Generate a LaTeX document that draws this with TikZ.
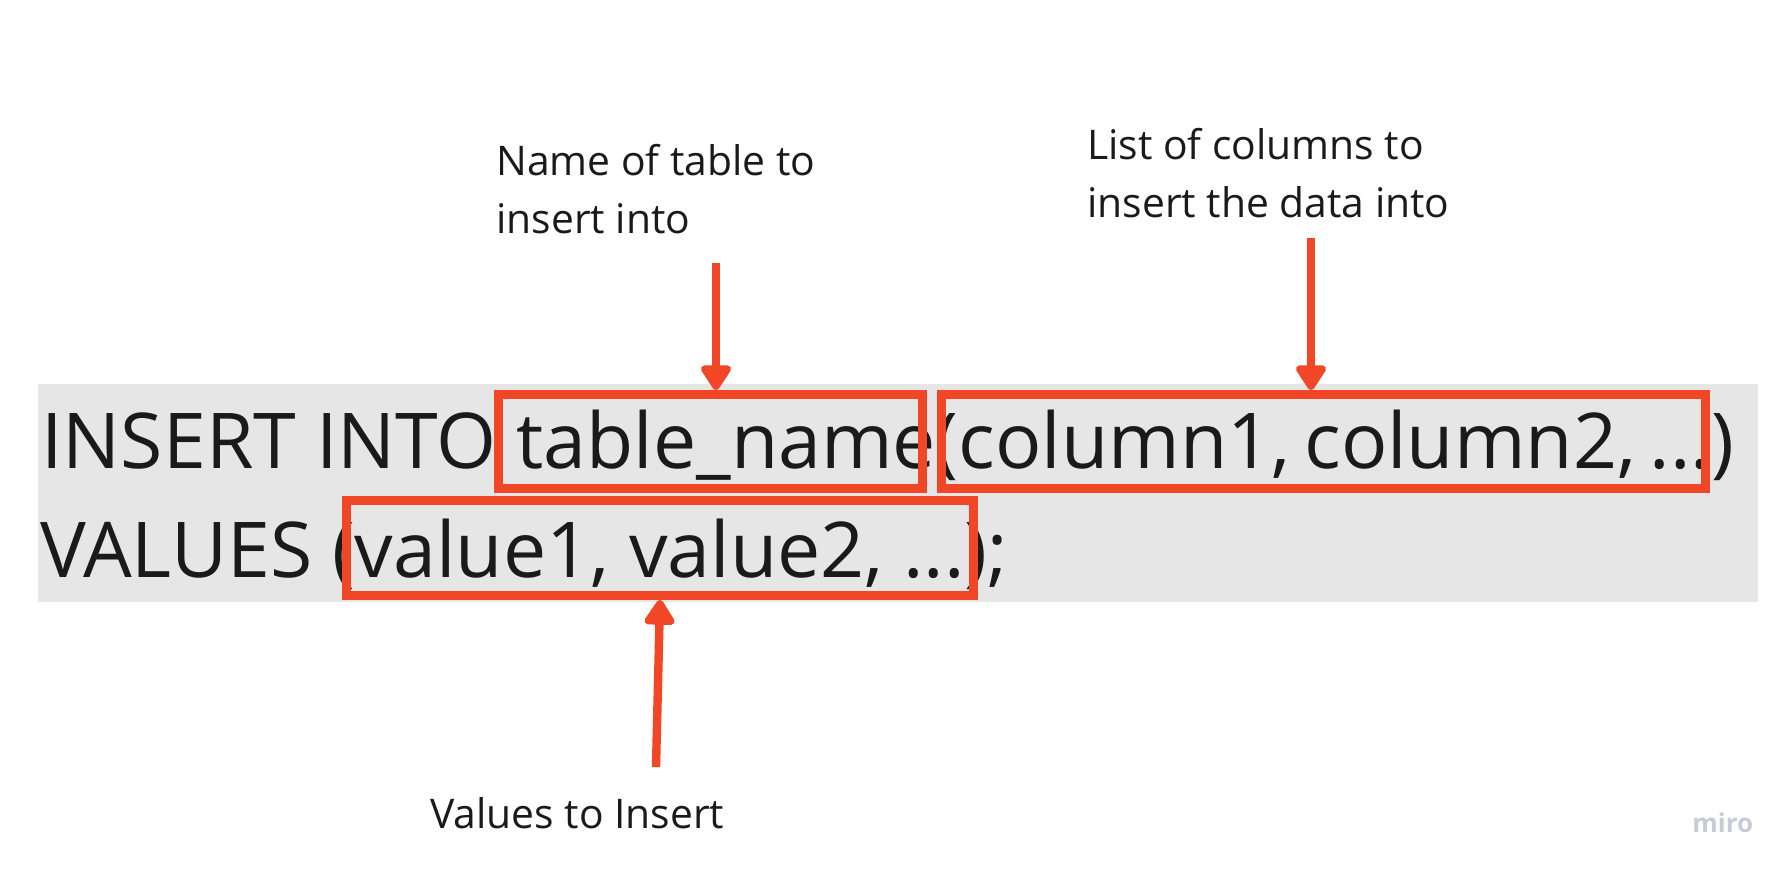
\documentclass[tikz,border=0pt]{standalone}
\usepackage{fontspec}
\setmainfont{Open Sans}
\usetikzlibrary{arrows.meta}
\definecolor{miroRed}{HTML}{F24726}
\definecolor{codeGray}{HTML}{E6E6E6}
\definecolor{inkDark}{HTML}{1A1A1A}
\definecolor{miroGray}{HTML}{C8CAD6}

\begin{document}
\begin{tikzpicture}[x=0.5pt,y=-0.5pt,
    code/.style={anchor=base west,inner sep=0,text=inkDark,font=\fontsize{38.5}{54}\selectfont},
    note/.style={anchor=base west,inner sep=0,text=inkDark,align=left,font=\fontsize{20.4}{29}\selectfont},
    hlbox/.style={draw=miroRed,line width=4.4pt,inner sep=0},
    pointer/.style={miroRed,line width=4.2pt,-{Triangle[length=14pt,width=17pt,round]}}]
  \useasboundingbox (0,0) rectangle (1788,873);
  \fill[codeGray] (37.6,384) rectangle (1758,602);
  \node[code] (insline) at (41,468) {INSERT INTO table\_name(column1,\kern-0.08em{} column2,\kern-0.08em{} ...)};
  \node[code] (valline) at (40,577) {VALUES (value1, value2, ...);};
  \node[hlbox,minimum width=212pt,minimum height=47pt] (tblbox) at (710.5,441.5) {};
  \node[hlbox,minimum width=382pt,minimum height=47pt] (colbox) at (1323.5,441.5) {};
  \node[hlbox,minimum width=313.5pt,minimum height=47.5pt] (valbox) at (660,548) {};
  \node[note] (tblnote) at (496,233) {Name of table to\\insert into};
  \node[note] (colnote) at (1087,217) {List of columns to\\insert the data into};
  \node[note] (valnote) at (430,828) {Values to Insert};
  \node[anchor=base west,inner sep=0,text=miroGray,font=\fontsize{13}{16}\selectfont\bfseries] (logo) at (1692,832) {miro};
  \coordinate (tbltail) at (716,263);
  \coordinate (coltail) at (1311,238);
  \coordinate (valtail) at (656,767);
  \draw[pointer] (tbltail) -- (tbltail |- tblbox.north);
  \draw[pointer] (coltail) -- (coltail |- colbox.north);
  \draw[pointer] (valtail) -- (valbox.south);
\end{tikzpicture}
\end{document}
